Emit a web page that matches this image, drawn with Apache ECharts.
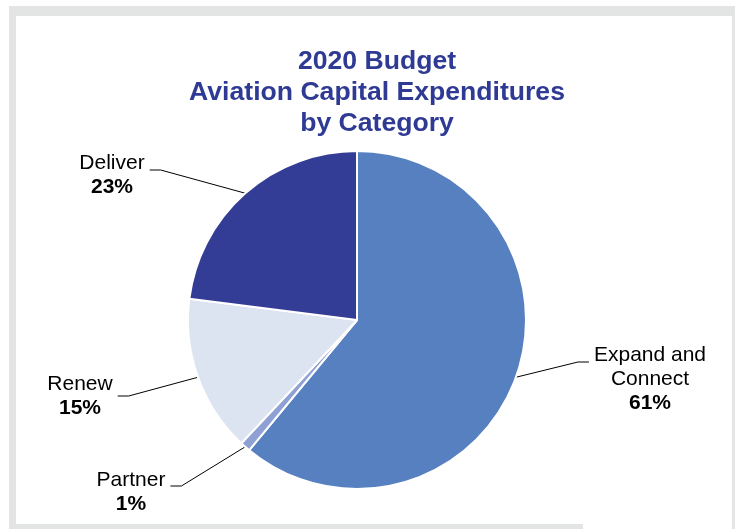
<!DOCTYPE html>
<html>
<head>
<meta charset="utf-8">
<script src="https://cdn.jsdelivr.net/npm/echarts@6/dist/echarts.min.js"></script>
<style>
  html, body { margin: 0; padding: 0; background: #ffffff; }
  #chart { width: 735px; height: 529px; }
</style>
</head>
<body>
<div id="chart"></div>
<script>
// Capital expenditure shares by category (percent of the 2020 aviation budget)
const categories = ['Expand and Connect', 'Partner', 'Renew', 'Deliver'];
const labelNames = ['Expand and\nConnect', 'Partner', 'Renew', 'Deliver'];
const shares = [61, 1, 15, 23];
const sliceColors = ['#5780c0', '#8fa0d4', '#dce3f1', '#333d96'];

// Where each label block sits: centre x, top y, height of the leader's
// horizontal run, and which side of the block the leader enters.
const labelSpots = [
  { x: 650, top: 343, lineY: 362, side: 'left' },
  { x: 131, top: 468, lineY: 486, side: 'right' },
  { x: 80,  top: 372, lineY: 396, side: 'right' },
  { x: 112, top: 151, lineY: 170, side: 'right' }
];

const FRAME_GREY = '#e3e4e4';
const FONT = '"Liberation Sans", Arial, sans-serif';

const chart = echarts.init(document.getElementById('chart'), null, { renderer: 'canvas' });

const pieData = categories.map(function (name, i) {
  return {
    name: name,
    value: shares[i],
    itemStyle: { color: sliceColors[i] }
  };
});

chart.setOption({
  animation: false,
  backgroundColor: '#ffffff',
  graphic: [
    { type: 'rect', silent: true, z: -10, shape: { x: 9, y: 6, width: 726, height: 523 }, style: { fill: FRAME_GREY } },
    { type: 'rect', silent: true, z: -9, shape: { x: 16, y: 16, width: 716, height: 508 }, style: { fill: '#ffffff' } },
    { type: 'rect', silent: true, z: -9, shape: { x: 583, y: 524, width: 149, height: 5 }, style: { fill: '#ffffff' } }
  ],
  title: {
    text: '2020 Budget\nAviation Capital Expenditures\nby Category',
    left: 377,
    top: 46,
    textAlign: 'center',
    padding: 0,
    textStyle: {
      fontFamily: FONT,
      fontSize: 26.6,
      fontWeight: 'bold',
      color: '#2e3a94',
      lineHeight: 31
    }
  },
  series: [{
    type: 'pie',
    center: [357, 320],
    radius: 169,
    startAngle: 90,
    clockwise: true,
    avoidLabelOverlap: false,
    silent: true,
    data: pieData,
    itemStyle: { borderColor: '#ffffff', borderWidth: 2 },
    label: {
      show: true,
      position: 'outside',
      color: '#000000',
      formatter: function (p) {
        return '{n|' + labelNames[p.dataIndex] + '}\n{v|' + p.value + '%}';
      },
      rich: {
        n: { fontFamily: FONT, fontSize: 21, color: '#000000', lineHeight: 24, align: 'center' },
        v: { fontFamily: FONT, fontSize: 21, fontWeight: 'bold', color: '#000000', lineHeight: 24, align: 'center' }
      }
    },
    labelLine: {
      show: true,
      smooth: false,
      lineStyle: { color: '#000000', width: 1 }
    },
    labelLayout: function (p) {
      const s = labelSpots[p.dataIndex];
      const w = p.labelRect.width;
      const out = { x: s.x, y: s.top, align: 'center', verticalAlign: 'top' };
      const anchor = p.labelLinePoints ? p.labelLinePoints[0] : null;
      if (anchor) {
        const end = s.side === 'left' ? s.x - w / 2 - 5 : s.x + w / 2 + 5;
        const bend = s.side === 'left' ? end - 11 : end + 11;
        out.labelLinePoints = [anchor, [bend, s.lineY], [end, s.lineY]];
      }
      return out;
    }
  }]
});
</script>
</body>
</html>
